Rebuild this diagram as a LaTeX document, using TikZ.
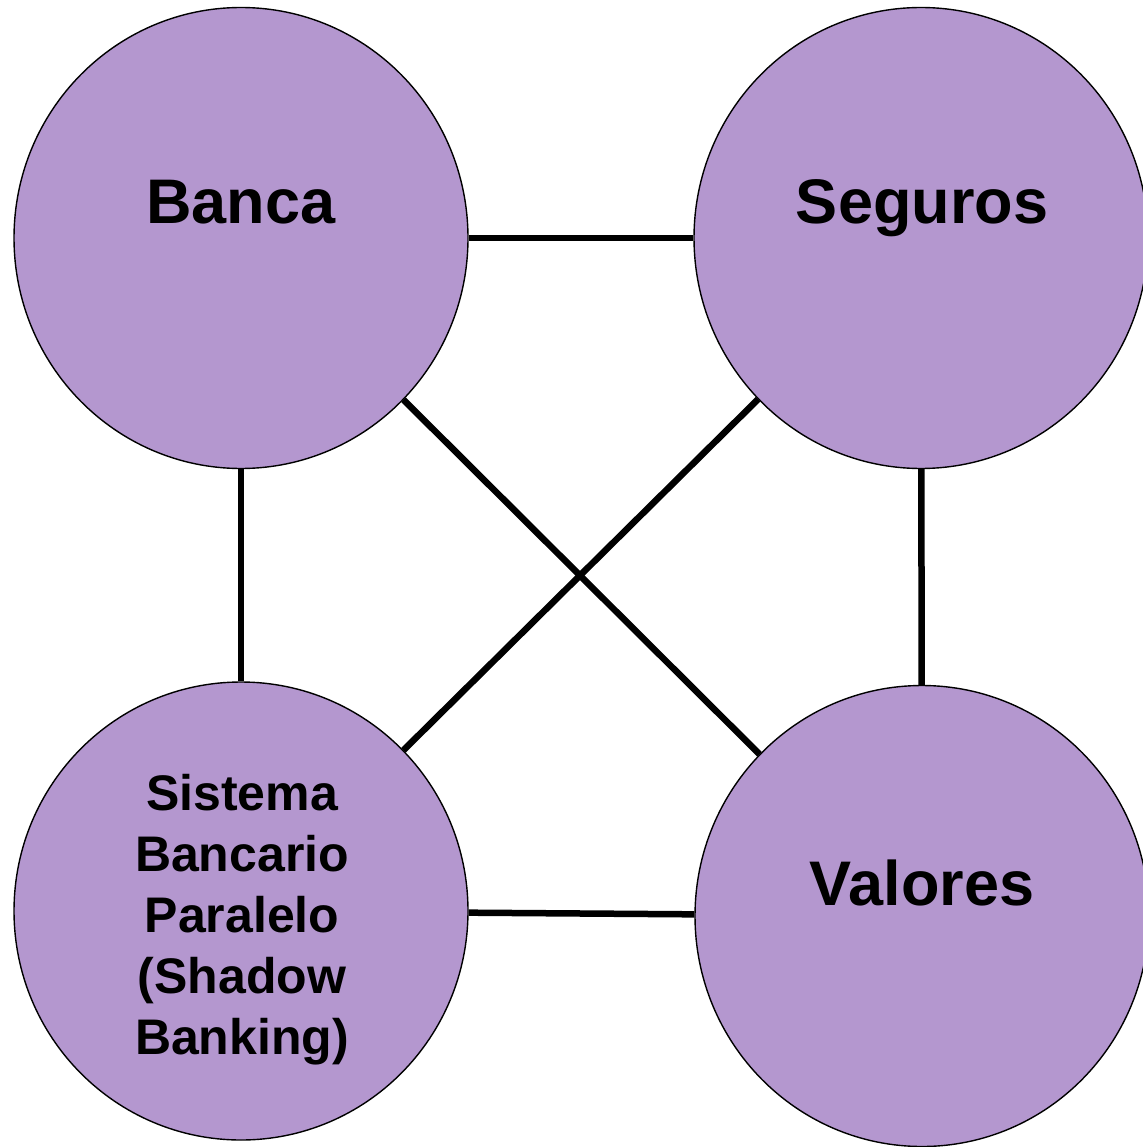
\documentclass[tikz,border=0pt]{standalone}
\usepackage{fontspec}
\setmainfont{Liberation Sans}
\usetikzlibrary{shapes.geometric}
\definecolor{circfill}{RGB}{180,151,207}
\tikzset{
  bubble/.style={ellipse, draw=black, line width=1.4pt, fill=circfill,
    minimum width=454pt, minimum height=461pt, inner sep=0pt},
  biglabel/.style={font=\bfseries\fontsize{63}{70}\selectfont, anchor=base, inner sep=0pt},
  smalllabel/.style={font=\bfseries\fontsize{50}{60.8}\selectfont, align=center, inner sep=0pt},
  link/.style={line width=6.5pt, draw=black}
}
\begin{document}
\begin{tikzpicture}[x=1pt,y=-1pt]
\useasboundingbox (0,0) rectangle (1142,1147);
\node[bubble] (banca) at (241,238) {};
\node[bubble] (seguros) at (921,238) {};
\node[bubble, minimum height=458pt] (sistema) at (241,911) {};
\node[bubble] (valores) at (922,916) {};

\draw[link] (banca) -- (seguros);
\draw[link] (banca) -- (sistema);
\draw[link] (seguros) -- (valores);
\draw[link] (sistema) -- (valores);
\draw[link] (banca) -- (valores);
\draw[link] (seguros) -- (sistema);

\node[biglabel] (tbanca) at (241,224) {Banca};
\node[biglabel] (tseguros) at (922,224) {Seguros};
\node[biglabel] (tvalores) at (922,905) {Valores};
\node[smalllabel, anchor=base] (tsistema) at (242,1054) {Sistema\\Bancario\\Paralelo\\(Shadow\\Banking)};
\end{tikzpicture}
\end{document}
